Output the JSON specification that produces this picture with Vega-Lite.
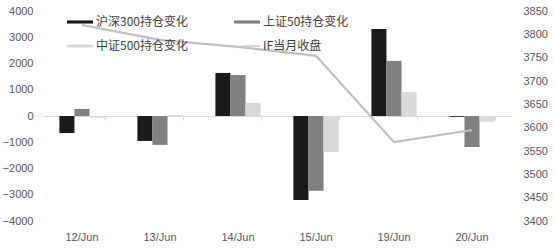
{
  "$schema": "https://vega.github.io/schema/vega-lite/v6.json",
  "width": 468,
  "height": 210,
  "autosize": "none",
  "padding": {"left": 43, "top": 11, "right": 43, "bottom": 27},
  "background": "white",
  "config": {
    "view": {"stroke": null},
    "axis": {"labelFont": "Liberation Sans", "labelFontSize": 11, "labelColor": "#595959", "grid": false}
  },
  "datasets": {
    "bars": [
      {"date": "12/Jun", "series": "沪深300持仓变化", "value": -650},
      {"date": "12/Jun", "series": "上证50持仓变化", "value": 270},
      {"date": "12/Jun", "series": "中证500持仓变化", "value": -70},
      {"date": "13/Jun", "series": "沪深300持仓变化", "value": -950},
      {"date": "13/Jun", "series": "上证50持仓变化", "value": -1100},
      {"date": "13/Jun", "series": "中证500持仓变化", "value": 40},
      {"date": "14/Jun", "series": "沪深300持仓变化", "value": 1640},
      {"date": "14/Jun", "series": "上证50持仓变化", "value": 1560},
      {"date": "14/Jun", "series": "中证500持仓变化", "value": 500},
      {"date": "15/Jun", "series": "沪深300持仓变化", "value": -3200},
      {"date": "15/Jun", "series": "上证50持仓变化", "value": -2850},
      {"date": "15/Jun", "series": "中证500持仓变化", "value": -1370},
      {"date": "19/Jun", "series": "沪深300持仓变化", "value": 3310},
      {"date": "19/Jun", "series": "上证50持仓变化", "value": 2100},
      {"date": "19/Jun", "series": "中证500持仓变化", "value": 910},
      {"date": "20/Jun", "series": "沪深300持仓变化", "value": -30},
      {"date": "20/Jun", "series": "上证50持仓变化", "value": -1180},
      {"date": "20/Jun", "series": "中证500持仓变化", "value": -220}
    ],
    "line": [
      {"date": "12/Jun", "series": "IF当月收盘", "close": 3820},
      {"date": "13/Jun", "series": "IF当月收盘", "close": 3788},
      {"date": "14/Jun", "series": "IF当月收盘", "close": 3773},
      {"date": "15/Jun", "series": "IF当月收盘", "close": 3754},
      {"date": "19/Jun", "series": "IF当月收盘", "close": 3569},
      {"date": "20/Jun", "series": "IF当月收盘", "close": 3595}
    ]
  },
  "layer": [
    {
      "data": {"name": "bars"},
      "mark": {"type": "bar"},
      "encoding": {
        "x": {
          "field": "date", "type": "nominal", "sort": null,
          "scale": {"paddingInner": 0.42, "paddingOuter": 0.21},
          "axis": {"title": null, "labels": false, "domain": true, "domainColor": "#d9d9d9", "ticks": true, "tickColor": "#d9d9d9", "tickSize": 4, "tickBand": "extent", "offset": -105, "orient": "bottom"}
        },
        "xOffset": {
          "field": "series", "type": "nominal",
          "scale": {"domain": ["沪深300持仓变化", "上证50持仓变化", "中证500持仓变化"], "paddingInner": 0, "paddingOuter": 0}
        },
        "y": {
          "field": "value", "type": "quantitative",
          "scale": {"domain": [-4000, 4000], "nice": false},
          "axis": {"title": null, "format": "d", "values": [-4000, -3000, -2000, -1000, 0, 1000, 2000, 3000, 4000], "domain": false, "ticks": false, "labelPadding": 10}
        },
        "color": {
          "field": "series", "type": "nominal",
          "scale": {"domain": ["沪深300持仓变化", "中证500持仓变化", "上证50持仓变化", "IF当月收盘"], "range": ["#1a1a1a", "#d9d9d9", "#808080", "#bfbfbf"]},
          "legend": {
            "title": null, "orient": "none", "legendX": 24, "legendY": -2, "columns": 2, "columnPadding": 46, "rowPadding": 5, "padding": 0,
            "labelFont": "Noto Sans CJK SC", "labelFontSize": 12, "labelColor": "#404040", "labelOffset": 3,
            "symbolType": "M-1,-0.12H1V0.12H-1Z", "symbolSize": 676, "symbolStrokeWidth": 0,
            "encode": {"symbols": {"update": {"shape": {"signal": "datum.label == 'IF当月收盘' ? 'M-0.35,-0.05H1V0.05H-0.35Z' : 'M-1,-0.12H1V0.12H-1Z'"}}}}
          }
        }
      }
    },
    {
      "data": {"name": "line"},
      "mark": {"type": "line", "strokeWidth": 2.2},
      "encoding": {
        "x": {
          "field": "date", "type": "nominal", "sort": null,
          "axis": {"title": null, "domain": false, "ticks": false, "labelPadding": 10, "labelAngle": 0, "orient": "bottom", "labelFontSize": 11}
        },
        "y": {
          "field": "close", "type": "quantitative",
          "scale": {"domain": [3400, 3850], "nice": false, "zero": false},
          "axis": {"title": null, "format": "d", "orient": "right", "values": [3400, 3450, 3500, 3550, 3600, 3650, 3700, 3750, 3800, 3850], "domain": false, "ticks": false, "labelPadding": 12}
        },
        "color": {"field": "series", "type": "nominal"}
      }
    }
  ],
  "resolve": {"scale": {"y": "independent", "x": "shared", "color": "shared"}, "axis": {"x": "independent", "y": "independent"}}
}
